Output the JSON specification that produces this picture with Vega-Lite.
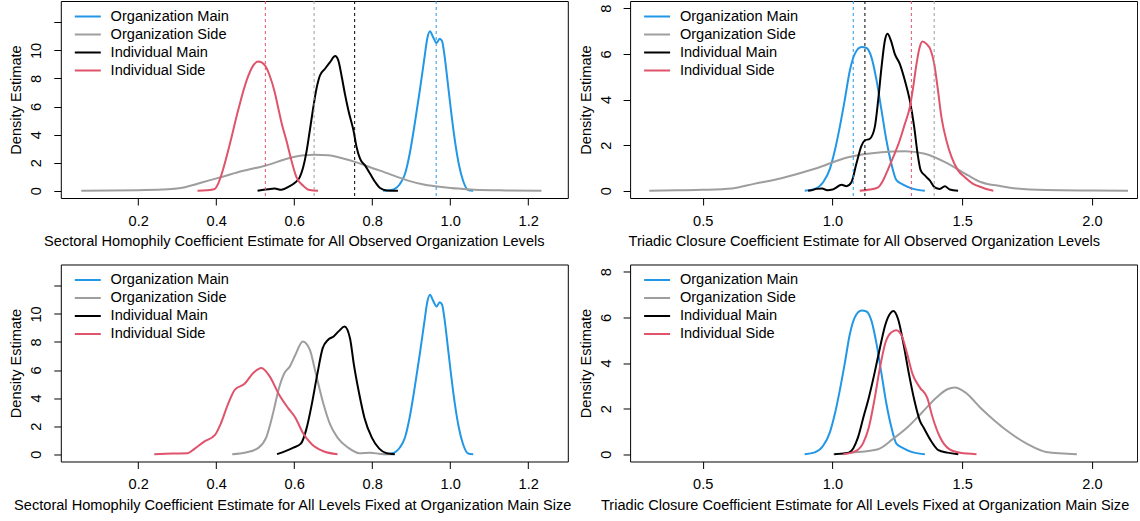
{
  "$schema": "https://vega.github.io/schema/vega-lite/v6.json",
  "background": "white",
  "padding": {"left": 7.8, "top": 0, "right": 0, "bottom": 0},
  "autosize": {"type": "pad"},
  "config": {
    "font": "Liberation Sans",
    "view": {"stroke": "black", "strokeWidth": 1},
    "axis": {"domain": false, "grid": false, "ticks": true, "tickColor": "black", "tickSize": 7, "tickWidth": 1, "labelColor": "black", "labelFontSize": 14.6, "labelFont": "Liberation Sans", "titleFontSize": 14.6, "titleFont": "Liberation Sans", "titleColor": "black", "titleFontWeight": "normal", "labelFlush": false, "labelOverlap": false},
    "legend": {"orient": "none", "legendX": 19.5, "legendY": 8, "title": null, "symbolType": "M-2,0H2", "symbolSize": 169, "symbolStrokeWidth": 2, "labelFontSize": 14.6, "labelFont": "Liberation Sans", "labelColor": "black", "labelOffset": 15.3, "rowPadding": 2, "padding": 0}
  },
  "datasets": {
    "so": [
      {"g":"Organization Main","x":0.828,"y":0},{"g":"Organization Main","x":0.849,"y":0.05},{"g":"Organization Main","x":0.871,"y":0.48},{"g":"Organization Main","x":0.884,"y":1.19},{"g":"Organization Main","x":0.896,"y":2.62},{"g":"Organization Main","x":0.909,"y":4.76},{"g":"Organization Main","x":0.922,"y":7.14},{"g":"Organization Main","x":0.933,"y":9.29},{"g":"Organization Main","x":0.942,"y":10.95},{"g":"Organization Main","x":0.948,"y":11.36},{"g":"Organization Main","x":0.956,"y":10.95},{"g":"Organization Main","x":0.965,"y":10.52},{"g":"Organization Main","x":0.973,"y":10.83},{"g":"Organization Main","x":0.979,"y":10.67},{"g":"Organization Main","x":0.986,"y":9.5},{"g":"Organization Main","x":0.993,"y":7.86},{"g":"Organization Main","x":1.002,"y":5.71},{"g":"Organization Main","x":1.012,"y":3.57},{"g":"Organization Main","x":1.022,"y":1.9},{"g":"Organization Main","x":1.033,"y":0.71},{"g":"Organization Main","x":1.046,"y":0.05},{"g":"Organization Main","x":1.059,"y":0},
      {"g":"Organization Side","x":0.054,"y":0},{"g":"Organization Side","x":0.13,"y":0.01},{"g":"Organization Side","x":0.2,"y":0.04},{"g":"Organization Side","x":0.26,"y":0.08},{"g":"Organization Side","x":0.285,"y":0.12},{"g":"Organization Side","x":0.32,"y":0.25},{"g":"Organization Side","x":0.35,"y":0.48},{"g":"Organization Side","x":0.38,"y":0.72},{"g":"Organization Side","x":0.414,"y":0.98},{"g":"Organization Side","x":0.467,"y":1.4},{"g":"Organization Side","x":0.525,"y":1.78},{"g":"Organization Side","x":0.593,"y":2.36},{"g":"Organization Side","x":0.625,"y":2.52},{"g":"Organization Side","x":0.653,"y":2.57},{"g":"Organization Side","x":0.687,"y":2.52},{"g":"Organization Side","x":0.721,"y":2.33},{"g":"Organization Side","x":0.764,"y":1.98},{"g":"Organization Side","x":0.807,"y":1.55},{"g":"Organization Side","x":0.832,"y":1.31},{"g":"Organization Side","x":0.862,"y":1.0},{"g":"Organization Side","x":0.892,"y":0.72},{"g":"Organization Side","x":0.935,"y":0.42},{"g":"Organization Side","x":0.978,"y":0.27},{"g":"Organization Side","x":1.02,"y":0.15},{"g":"Organization Side","x":1.063,"y":0.07},{"g":"Organization Side","x":1.141,"y":0.02},{"g":"Organization Side","x":1.234,"y":0},
      {"g":"Individual Main","x":0.506,"y":0},{"g":"Individual Main","x":0.533,"y":0.1},{"g":"Individual Main","x":0.55,"y":0.15},{"g":"Individual Main","x":0.567,"y":0.07},{"g":"Individual Main","x":0.584,"y":0.26},{"g":"Individual Main","x":0.601,"y":0.55},{"g":"Individual Main","x":0.614,"y":0.95},{"g":"Individual Main","x":0.623,"y":1.67},{"g":"Individual Main","x":0.632,"y":2.86},{"g":"Individual Main","x":0.64,"y":4.29},{"g":"Individual Main","x":0.649,"y":5.95},{"g":"Individual Main","x":0.657,"y":7.26},{"g":"Individual Main","x":0.666,"y":8.21},{"g":"Individual Main","x":0.679,"y":8.69},{"g":"Individual Main","x":0.692,"y":9.17},{"g":"Individual Main","x":0.705,"y":9.6},{"g":"Individual Main","x":0.713,"y":9.29},{"g":"Individual Main","x":0.722,"y":8.1},{"g":"Individual Main","x":0.73,"y":6.9},{"g":"Individual Main","x":0.739,"y":5.71},{"g":"Individual Main","x":0.752,"y":4.29},{"g":"Individual Main","x":0.76,"y":3.1},{"g":"Individual Main","x":0.769,"y":2.26},{"g":"Individual Main","x":0.782,"y":1.79},{"g":"Individual Main","x":0.795,"y":1.19},{"g":"Individual Main","x":0.808,"y":0.6},{"g":"Individual Main","x":0.82,"y":0.19},{"g":"Individual Main","x":0.837,"y":0.02},{"g":"Individual Main","x":0.866,"y":0},
      {"g":"Individual Side","x":0.352,"y":0},{"g":"Individual Side","x":0.375,"y":0.03},{"g":"Individual Side","x":0.396,"y":0.12},{"g":"Individual Side","x":0.405,"y":0.5},{"g":"Individual Side","x":0.414,"y":1.19},{"g":"Individual Side","x":0.435,"y":3.33},{"g":"Individual Side","x":0.456,"y":5.71},{"g":"Individual Side","x":0.478,"y":7.86},{"g":"Individual Side","x":0.495,"y":8.93},{"g":"Individual Side","x":0.508,"y":9.2},{"g":"Individual Side","x":0.525,"y":8.93},{"g":"Individual Side","x":0.537,"y":8.21},{"g":"Individual Side","x":0.55,"y":7.02},{"g":"Individual Side","x":0.559,"y":5.9},{"g":"Individual Side","x":0.567,"y":4.9},{"g":"Individual Side","x":0.58,"y":3.57},{"g":"Individual Side","x":0.593,"y":2.14},{"g":"Individual Side","x":0.606,"y":0.95},{"g":"Individual Side","x":0.623,"y":0.36},{"g":"Individual Side","x":0.64,"y":0.05},{"g":"Individual Side","x":0.661,"y":0}
    ],
    "som": [
      {"g":"Individual Side","x":0.526},{"g":"Organization Side","x":0.651},{"g":"Individual Main","x":0.755},{"g":"Organization Main","x":0.964}
    ],
    "to": [
      {"g":"Organization Main","x":0.893,"y":0},{"g":"Organization Main","x":0.932,"y":0.08},{"g":"Organization Main","x":0.964,"y":0.37},{"g":"Organization Main","x":0.99,"y":0.96},{"g":"Organization Main","x":1.009,"y":1.76},{"g":"Organization Main","x":1.028,"y":2.79},{"g":"Organization Main","x":1.047,"y":3.96},{"g":"Organization Main","x":1.067,"y":5.27},{"g":"Organization Main","x":1.086,"y":6.0},{"g":"Organization Main","x":1.112,"y":6.3},{"g":"Organization Main","x":1.131,"y":6.26},{"g":"Organization Main","x":1.15,"y":5.86},{"g":"Organization Main","x":1.17,"y":4.83},{"g":"Organization Main","x":1.189,"y":3.52},{"g":"Organization Main","x":1.208,"y":2.2},{"g":"Organization Main","x":1.227,"y":1.18},{"g":"Organization Main","x":1.247,"y":0.45},{"g":"Organization Main","x":1.272,"y":0.27},{"g":"Organization Main","x":1.311,"y":0.08},{"g":"Organization Main","x":1.356,"y":0},
      {"g":"Organization Side","x":0.294,"y":0},{"g":"Organization Side","x":0.4,"y":0.02},{"g":"Organization Side","x":0.5,"y":0.04},{"g":"Organization Side","x":0.613,"y":0.1},{"g":"Organization Side","x":0.697,"y":0.3},{"g":"Organization Side","x":0.803,"y":0.55},{"g":"Organization Side","x":0.932,"y":0.96},{"g":"Organization Side","x":1.06,"y":1.47},{"g":"Organization Side","x":1.189,"y":1.69},{"g":"Organization Side","x":1.279,"y":1.73},{"g":"Organization Side","x":1.356,"y":1.62},{"g":"Organization Side","x":1.446,"y":1.18},{"g":"Organization Side","x":1.523,"y":0.67},{"g":"Organization Side","x":1.574,"y":0.37},{"g":"Organization Side","x":1.65,"y":0.2},{"g":"Organization Side","x":1.71,"y":0.1},{"g":"Organization Side","x":1.823,"y":0.03},{"g":"Organization Side","x":2.0,"y":0.01},{"g":"Organization Side","x":2.139,"y":0},
      {"g":"Individual Main","x":0.906,"y":0},{"g":"Individual Main","x":0.919,"y":0.02},{"g":"Individual Main","x":0.938,"y":0.08},{"g":"Individual Main","x":0.96,"y":0.1},{"g":"Individual Main","x":0.98,"y":0.02},{"g":"Individual Main","x":1.0,"y":0.05},{"g":"Individual Main","x":1.009,"y":0.1},{"g":"Individual Main","x":1.035,"y":0.26},{"g":"Individual Main","x":1.054,"y":0.2},{"g":"Individual Main","x":1.073,"y":0.37},{"g":"Individual Main","x":1.092,"y":1.18},{"g":"Individual Main","x":1.112,"y":1.98},{"g":"Individual Main","x":1.124,"y":2.2},{"g":"Individual Main","x":1.144,"y":2.28},{"g":"Individual Main","x":1.163,"y":2.79},{"g":"Individual Main","x":1.176,"y":3.96},{"g":"Individual Main","x":1.189,"y":5.42},{"g":"Individual Main","x":1.202,"y":6.59},{"g":"Individual Main","x":1.212,"y":6.88},{"g":"Individual Main","x":1.225,"y":6.59},{"g":"Individual Main","x":1.24,"y":6.0},{"g":"Individual Main","x":1.259,"y":5.57},{"g":"Individual Main","x":1.279,"y":4.83},{"g":"Individual Main","x":1.298,"y":3.96},{"g":"Individual Main","x":1.315,"y":2.79},{"g":"Individual Main","x":1.328,"y":1.62},{"g":"Individual Main","x":1.34,"y":0.89},{"g":"Individual Main","x":1.356,"y":0.67},{"g":"Individual Main","x":1.375,"y":0.45},{"g":"Individual Main","x":1.394,"y":0.15},{"g":"Individual Main","x":1.414,"y":0.08},{"g":"Individual Main","x":1.433,"y":0.2},{"g":"Individual Main","x":1.452,"y":0.05},{"g":"Individual Main","x":1.484,"y":0},
      {"g":"Individual Side","x":1.105,"y":0},{"g":"Individual Side","x":1.144,"y":0.05},{"g":"Individual Side","x":1.176,"y":0.15},{"g":"Individual Side","x":1.195,"y":0.45},{"g":"Individual Side","x":1.215,"y":0.96},{"g":"Individual Side","x":1.234,"y":1.47},{"g":"Individual Side","x":1.259,"y":2.2},{"g":"Individual Side","x":1.279,"y":2.93},{"g":"Individual Side","x":1.298,"y":3.66},{"g":"Individual Side","x":1.311,"y":4.54},{"g":"Individual Side","x":1.324,"y":5.57},{"g":"Individual Side","x":1.336,"y":6.29},{"g":"Individual Side","x":1.347,"y":6.54},{"g":"Individual Side","x":1.362,"y":6.44},{"g":"Individual Side","x":1.379,"y":6.15},{"g":"Individual Side","x":1.392,"y":5.57},{"g":"Individual Side","x":1.405,"y":4.54},{"g":"Individual Side","x":1.42,"y":3.22},{"g":"Individual Side","x":1.439,"y":2.2},{"g":"Individual Side","x":1.459,"y":1.47},{"g":"Individual Side","x":1.484,"y":0.89},{"g":"Individual Side","x":1.51,"y":0.59},{"g":"Individual Side","x":1.542,"y":0.3},{"g":"Individual Side","x":1.574,"y":0.15},{"g":"Individual Side","x":1.6,"y":0.05},{"g":"Individual Side","x":1.62,"y":0}
    ],
    "tom": [
      {"g":"Organization Main","x":1.08},{"g":"Individual Main","x":1.125},{"g":"Individual Side","x":1.304},{"g":"Organization Side","x":1.392}
    ],
    "sf": [
      {"g":"Organization Main","x":0.828,"y":0},{"g":"Organization Main","x":0.849,"y":0.05},{"g":"Organization Main","x":0.871,"y":0.48},{"g":"Organization Main","x":0.884,"y":1.19},{"g":"Organization Main","x":0.896,"y":2.62},{"g":"Organization Main","x":0.909,"y":4.76},{"g":"Organization Main","x":0.922,"y":7.14},{"g":"Organization Main","x":0.933,"y":9.29},{"g":"Organization Main","x":0.942,"y":10.95},{"g":"Organization Main","x":0.948,"y":11.36},{"g":"Organization Main","x":0.956,"y":10.95},{"g":"Organization Main","x":0.965,"y":10.52},{"g":"Organization Main","x":0.973,"y":10.83},{"g":"Organization Main","x":0.979,"y":10.67},{"g":"Organization Main","x":0.986,"y":9.5},{"g":"Organization Main","x":0.993,"y":7.86},{"g":"Organization Main","x":1.002,"y":5.71},{"g":"Organization Main","x":1.012,"y":3.57},{"g":"Organization Main","x":1.022,"y":1.9},{"g":"Organization Main","x":1.033,"y":0.71},{"g":"Organization Main","x":1.046,"y":0.05},{"g":"Organization Main","x":1.059,"y":0},
      {"g":"Organization Side","x":0.441,"y":0},{"g":"Organization Side","x":0.476,"y":0.12},{"g":"Organization Side","x":0.509,"y":0.47},{"g":"Organization Side","x":0.528,"y":1.18},{"g":"Organization Side","x":0.547,"y":3.07},{"g":"Organization Side","x":0.561,"y":4.72},{"g":"Organization Side","x":0.575,"y":5.79},{"g":"Organization Side","x":0.589,"y":6.26},{"g":"Organization Side","x":0.603,"y":7.09},{"g":"Organization Side","x":0.622,"y":8.04},{"g":"Organization Side","x":0.64,"y":7.45},{"g":"Organization Side","x":0.654,"y":5.91},{"g":"Organization Side","x":0.673,"y":3.78},{"g":"Organization Side","x":0.692,"y":2.13},{"g":"Organization Side","x":0.711,"y":1.18},{"g":"Organization Side","x":0.738,"y":0.47},{"g":"Organization Side","x":0.767,"y":0.07},{"g":"Organization Side","x":0.795,"y":0.1},{"g":"Organization Side","x":0.823,"y":0.02},{"g":"Organization Side","x":0.855,"y":0},
      {"g":"Individual Main","x":0.556,"y":0},{"g":"Individual Main","x":0.579,"y":0.24},{"g":"Individual Main","x":0.598,"y":0.47},{"g":"Individual Main","x":0.617,"y":0.75},{"g":"Individual Main","x":0.631,"y":1.77},{"g":"Individual Main","x":0.645,"y":3.55},{"g":"Individual Main","x":0.659,"y":5.67},{"g":"Individual Main","x":0.673,"y":7.56},{"g":"Individual Main","x":0.687,"y":8.16},{"g":"Individual Main","x":0.701,"y":8.39},{"g":"Individual Main","x":0.715,"y":8.79},{"g":"Individual Main","x":0.729,"y":9.1},{"g":"Individual Main","x":0.743,"y":8.27},{"g":"Individual Main","x":0.753,"y":6.38},{"g":"Individual Main","x":0.767,"y":4.25},{"g":"Individual Main","x":0.78,"y":2.6},{"g":"Individual Main","x":0.799,"y":1.18},{"g":"Individual Main","x":0.818,"y":0.4},{"g":"Individual Main","x":0.837,"y":0.07},{"g":"Individual Main","x":0.858,"y":0},
      {"g":"Individual Side","x":0.241,"y":0},{"g":"Individual Side","x":0.289,"y":0.05},{"g":"Individual Side","x":0.327,"y":0.07},{"g":"Individual Side","x":0.345,"y":0.4},{"g":"Individual Side","x":0.369,"y":0.9},{"g":"Individual Side","x":0.397,"y":1.37},{"g":"Individual Side","x":0.411,"y":2.13},{"g":"Individual Side","x":0.43,"y":3.55},{"g":"Individual Side","x":0.448,"y":4.6},{"g":"Individual Side","x":0.472,"y":5.0},{"g":"Individual Side","x":0.495,"y":5.79},{"g":"Individual Side","x":0.516,"y":6.14},{"g":"Individual Side","x":0.537,"y":5.55},{"g":"Individual Side","x":0.561,"y":4.26},{"g":"Individual Side","x":0.584,"y":3.3},{"g":"Individual Side","x":0.603,"y":2.6},{"g":"Individual Side","x":0.622,"y":1.53},{"g":"Individual Side","x":0.645,"y":0.71},{"g":"Individual Side","x":0.673,"y":0.23},{"g":"Individual Side","x":0.711,"y":0}
    ],
    "tf": [
      {"g":"Organization Main","x":0.893,"y":0},{"g":"Organization Main","x":0.932,"y":0.08},{"g":"Organization Main","x":0.964,"y":0.37},{"g":"Organization Main","x":0.99,"y":0.96},{"g":"Organization Main","x":1.009,"y":1.76},{"g":"Organization Main","x":1.028,"y":2.79},{"g":"Organization Main","x":1.047,"y":3.96},{"g":"Organization Main","x":1.067,"y":5.27},{"g":"Organization Main","x":1.086,"y":6.0},{"g":"Organization Main","x":1.112,"y":6.3},{"g":"Organization Main","x":1.131,"y":6.26},{"g":"Organization Main","x":1.15,"y":5.86},{"g":"Organization Main","x":1.17,"y":4.83},{"g":"Organization Main","x":1.189,"y":3.52},{"g":"Organization Main","x":1.208,"y":2.2},{"g":"Organization Main","x":1.227,"y":1.18},{"g":"Organization Main","x":1.247,"y":0.45},{"g":"Organization Main","x":1.272,"y":0.27},{"g":"Organization Main","x":1.311,"y":0.08},{"g":"Organization Main","x":1.356,"y":0},
      {"g":"Organization Side","x":1.004,"y":0},{"g":"Organization Side","x":1.077,"y":0.07},{"g":"Organization Side","x":1.176,"y":0.22},{"g":"Organization Side","x":1.232,"y":0.66},{"g":"Organization Side","x":1.288,"y":1.17},{"g":"Organization Side","x":1.345,"y":1.83},{"g":"Organization Side","x":1.4,"y":2.48},{"g":"Organization Side","x":1.443,"y":2.85},{"g":"Organization Side","x":1.471,"y":2.92},{"g":"Organization Side","x":1.513,"y":2.7},{"g":"Organization Side","x":1.57,"y":2.04},{"g":"Organization Side","x":1.626,"y":1.46},{"g":"Organization Side","x":1.682,"y":0.95},{"g":"Organization Side","x":1.752,"y":0.44},{"g":"Organization Side","x":1.823,"y":0.1},{"g":"Organization Side","x":1.942,"y":0},
      {"g":"Individual Main","x":1.007,"y":0},{"g":"Individual Main","x":1.063,"y":0.07},{"g":"Individual Main","x":1.098,"y":0.73},{"g":"Individual Main","x":1.119,"y":1.61},{"g":"Individual Main","x":1.14,"y":2.48},{"g":"Individual Main","x":1.161,"y":3.5},{"g":"Individual Main","x":1.183,"y":4.67},{"g":"Individual Main","x":1.204,"y":5.69},{"g":"Individual Main","x":1.225,"y":6.21},{"g":"Individual Main","x":1.235,"y":6.28},{"g":"Individual Main","x":1.253,"y":5.92},{"g":"Individual Main","x":1.274,"y":4.82},{"g":"Individual Main","x":1.295,"y":3.5},{"g":"Individual Main","x":1.316,"y":2.34},{"g":"Individual Main","x":1.337,"y":1.46},{"g":"Individual Main","x":1.351,"y":1.17},{"g":"Individual Main","x":1.38,"y":0.58},{"g":"Individual Main","x":1.408,"y":0.18},{"g":"Individual Main","x":1.443,"y":0.07},{"g":"Individual Main","x":1.485,"y":0},
      {"g":"Individual Side","x":1.042,"y":0},{"g":"Individual Side","x":1.091,"y":0.15},{"g":"Individual Side","x":1.119,"y":0.51},{"g":"Individual Side","x":1.14,"y":1.17},{"g":"Individual Side","x":1.161,"y":2.34},{"g":"Individual Side","x":1.183,"y":3.8},{"g":"Individual Side","x":1.204,"y":4.89},{"g":"Individual Side","x":1.225,"y":5.33},{"g":"Individual Side","x":1.246,"y":5.44},{"g":"Individual Side","x":1.267,"y":5.19},{"g":"Individual Side","x":1.288,"y":4.39},{"g":"Individual Side","x":1.309,"y":3.5},{"g":"Individual Side","x":1.337,"y":2.92},{"g":"Individual Side","x":1.365,"y":2.48},{"g":"Individual Side","x":1.386,"y":1.61},{"g":"Individual Side","x":1.415,"y":0.73},{"g":"Individual Side","x":1.45,"y":0.22},{"g":"Individual Side","x":1.492,"y":0.06},{"g":"Individual Side","x":1.555,"y":0}
    ]
  },
  "columns": 2,
  "bounds": "flush",
  "spacing": {"row": 66.5, "column": 62.3},
  "resolve": {"scale": {"x": "independent", "y": "independent", "color": "independent"}, "axis": {"x": "independent", "y": "independent"}, "legend": {"color": "independent"}},
  "concat": [
    {
      "width": 507, "height": 197,
      "layer": [
        {"data": {"name": "so"},
         "mark": {"type": "line", "strokeWidth": 2, "interpolate": "monotone"},
         "encoding": {
           "x": {"field": "x", "type": "quantitative", "scale": {"domain": [0.0015, 1.3015], "nice": false, "zero": false},
                 "axis": {"values": [0.2, 0.4, 0.6, 0.8, 1.0, 1.2], "format": ".1f", "labelBaseline": "alphabetic", "labelPadding": 20, "title": "Sectoral Homophily Coefficient Estimate for All Observed Organization Levels", "titleX": 233, "titleY": 47.3, "titleAlign": "center", "titleBaseline": "alphabetic"}},
           "y": {"field": "y", "type": "quantitative", "scale": {"domain": [-0.52, 13.52], "nice": false, "zero": false},
                 "axis": {"values": [0, 2, 4, 6, 8, 10, 12], "labelExpr": "datum.value > 10 ? '' : datum.label", "labelAngle": 270, "labelAlign": "center", "labelBaseline": "alphabetic", "labelPadding": 13, "title": "Density Estimate", "titleX": -40, "titleY": 98.5, "titleAngle": 270, "titleAlign": "center", "titleBaseline": "alphabetic"}},
           "color": {"field": "g", "type": "nominal", "scale": {"domain": ["Organization Main", "Organization Side", "Individual Main", "Individual Side"], "range": ["#2297E6", "#9E9E9E", "#000000", "#DF536B"]}, "legend": {}}
         }},
        {"data": {"name": "som"},
         "mark": {"type": "rule", "strokeWidth": 1, "strokeDash": [3, 3]},
         "encoding": {"x": {"field": "x", "type": "quantitative"}, "color": {"field": "g", "type": "nominal"}}}
      ]
    },
    {
      "width": 507, "height": 197,
      "layer": [
        {"data": {"name": "to"},
         "mark": {"type": "line", "strokeWidth": 2, "interpolate": "monotone"},
         "encoding": {
           "x": {"field": "x", "type": "quantitative", "scale": {"domain": [0.22, 2.174], "nice": false, "zero": false},
                 "axis": {"values": [0.5, 1.0, 1.5, 2.0], "format": ".1f", "labelBaseline": "alphabetic", "labelPadding": 20, "title": "Triadic Closure Coefficient Estimate for All Observed Organization Levels", "titleX": 233.7, "titleY": 47.3, "titleAlign": "center", "titleBaseline": "alphabetic"}},
           "y": {"field": "y", "type": "quantitative", "scale": {"domain": [-0.32, 8.32], "nice": false, "zero": false},
                 "axis": {"values": [0, 2, 4, 6, 8], "labelAngle": 270, "labelAlign": "center", "labelBaseline": "alphabetic", "labelPadding": 13, "title": "Density Estimate", "titleX": -40, "titleY": 98.5, "titleAngle": 270, "titleAlign": "center", "titleBaseline": "alphabetic"}},
           "color": {"field": "g", "type": "nominal", "scale": {"domain": ["Organization Main", "Organization Side", "Individual Main", "Individual Side"], "range": ["#2297E6", "#9E9E9E", "#000000", "#DF536B"]}, "legend": {}}
         }},
        {"data": {"name": "tom"},
         "mark": {"type": "rule", "strokeWidth": 1, "strokeDash": [3, 3]},
         "encoding": {"x": {"field": "x", "type": "quantitative"}, "color": {"field": "g", "type": "nominal"}}}
      ]
    },
    {
      "width": 507, "height": 197,
      "data": {"name": "sf"},
      "mark": {"type": "line", "strokeWidth": 2, "interpolate": "monotone"},
      "encoding": {
        "x": {"field": "x", "type": "quantitative", "scale": {"domain": [0.0015, 1.3015], "nice": false, "zero": false},
              "axis": {"values": [0.2, 0.4, 0.6, 0.8, 1.0, 1.2], "format": ".1f", "labelBaseline": "alphabetic", "labelPadding": 20, "title": "Sectoral Homophily Coefficient Estimate for All Levels Fixed at Organization Main Size", "titleX": 231.4, "titleY": 48, "titleAlign": "center", "titleBaseline": "alphabetic"}},
        "y": {"field": "y", "type": "quantitative", "scale": {"domain": [-0.52, 13.52], "nice": false, "zero": false},
              "axis": {"values": [0, 2, 4, 6, 8, 10, 12], "labelExpr": "datum.value > 10 ? '' : datum.label", "labelAngle": 270, "labelAlign": "center", "labelBaseline": "alphabetic", "labelPadding": 13, "title": "Density Estimate", "titleX": -40, "titleY": 98.5, "titleAngle": 270, "titleAlign": "center", "titleBaseline": "alphabetic"}},
        "color": {"field": "g", "type": "nominal", "scale": {"domain": ["Organization Main", "Organization Side", "Individual Main", "Individual Side"], "range": ["#2297E6", "#9E9E9E", "#000000", "#DF536B"]}, "legend": {}}
      }
    },
    {
      "width": 507, "height": 197,
      "data": {"name": "tf"},
      "mark": {"type": "line", "strokeWidth": 2, "interpolate": "monotone"},
      "encoding": {
        "x": {"field": "x", "type": "quantitative", "scale": {"domain": [0.22, 2.174], "nice": false, "zero": false},
              "axis": {"values": [0.5, 1.0, 1.5, 2.0], "format": ".1f", "labelBaseline": "alphabetic", "labelPadding": 20, "title": "Triadic Closure Coefficient Estimate for All Levels Fixed at Organization Main Size", "titleX": 234.5, "titleY": 48, "titleAlign": "center", "titleBaseline": "alphabetic"}},
        "y": {"field": "y", "type": "quantitative", "scale": {"domain": [-0.32, 8.32], "nice": false, "zero": false},
              "axis": {"values": [0, 2, 4, 6, 8], "labelAngle": 270, "labelAlign": "center", "labelBaseline": "alphabetic", "labelPadding": 13, "title": "Density Estimate", "titleX": -40, "titleY": 98.5, "titleAngle": 270, "titleAlign": "center", "titleBaseline": "alphabetic"}},
        "color": {"field": "g", "type": "nominal", "scale": {"domain": ["Organization Main", "Organization Side", "Individual Main", "Individual Side"], "range": ["#2297E6", "#9E9E9E", "#000000", "#DF536B"]}, "legend": {}}
      }
    }
  ]
}
